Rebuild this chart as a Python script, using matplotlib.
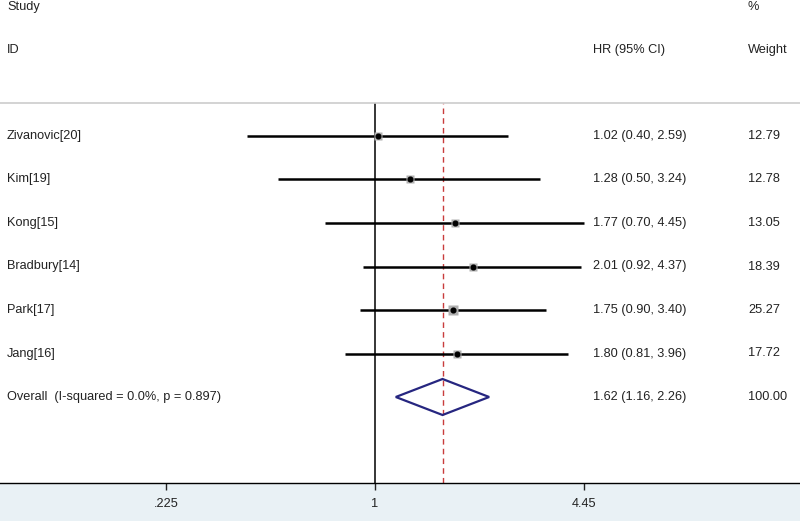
import matplotlib.pyplot as plt
import matplotlib.transforms as mtransforms
from matplotlib.patches import Rectangle, Polygon
import numpy as np

plt.rcParams['font.family'] = ['Liberation Sans', 'DejaVu Sans']

studies = ["Zivanovic[20]", "Kim[19]", "Kong[15]", "Bradbury[14]", "Park[17]", "Jang[16]"]
hr = [1.02, 1.28, 1.77, 2.01, 1.75, 1.80]
lower = [0.40, 0.50, 0.70, 0.92, 0.90, 0.81]
upper = [2.59, 3.24, 4.45, 4.37, 3.40, 3.96]
weights = [12.79, 12.78, 13.05, 18.39, 25.27, 17.72]

overall_label = "Overall  (I-squared = 0.0%, p = 0.897)"
overall_hr, overall_lo, overall_hi = 1.62, 1.16, 2.26
overall_weight = 100.00

xticks = [0.225, 1, 4.45]
xtick_labels = [".225", "1", "4.45"]

W, H = 800, 521
fig = plt.figure(figsize=(W / 100, H / 100), dpi=100)
fig.patch.set_facecolor("white")

# light band behind the axis labels
fig.add_artist(Rectangle((0, 0), 1, 38 / H, transform=fig.transFigure,
                         facecolor="#e9f1f5", edgecolor="none", zorder=0))

ax = fig.add_axes([0, 38 / H, 1, 380 / H])
ax.set_facecolor("none")
ax.set_xscale("log")
px_per_log = 140.0
ax.set_xlim(np.exp(-375 / px_per_log), np.exp((W - 375) / px_per_log))
row_px = 43.5
ax.set_ylim(6 + 86 / row_px, -33 / row_px)

ax.spines["left"].set_visible(False)
ax.spines["right"].set_visible(False)
ax.spines["top"].set_color("#cccccc")
ax.spines["top"].set_linewidth(1.2)
ax.spines["bottom"].set_color("black")
ax.spines["bottom"].set_linewidth(1.0)

ax.set_yticks([])
ax.set_xticks(xticks, labels=xtick_labels)
ax.xaxis.set_minor_locator(plt.NullLocator())
ax.tick_params(axis="x", direction="out", length=5, width=1, pad=6,
               labelsize=9.2, colors="#222222")

# null line and overall dashed line
ax.axvline(1, color="black", lw=1.1, zorder=2)
ax.axvline(overall_hr, color="#c83c3c", lw=1.0, ls=(0, (4, 3)), zorder=2)

ys = np.arange(len(studies))
for y, h, lo, up, w in zip(ys, hr, lower, upper, weights):
    ax.plot([lo, up], [y, y], color="black", lw=1.8, zorder=3, solid_capstyle="butt")
    side = 2.0 * np.sqrt(w) * 0.72
    ax.plot(h, y, marker="s", ms=side, color="#b0b0b0", mec="none", zorder=4)
    ax.plot(h, y, marker="o", ms=3.4, color="black", zorder=5)

oy = len(studies)
dh = 18 / row_px
diamond = Polygon([(overall_lo, oy), (overall_hr, oy - dh), (overall_hi, oy),
                   (overall_hr, oy + dh)], closed=True, fill=False,
                  edgecolor="#262680", lw=1.6, zorder=4)
ax.add_patch(diamond)

# text columns
trans = mtransforms.blended_transform_factory(fig.transFigure, ax.transData)
fs = 9.2
tc = "#222222"
for y, name, h, lo, up, w in zip(ys, studies, hr, lower, upper, weights):
    ax.text(7 / W, y, name, transform=trans, ha="left", va="center", fontsize=fs, color=tc)
    ax.text(593 / W, y, f"{h:.2f} ({lo:.2f}, {up:.2f})", transform=trans,
            ha="left", va="center", fontsize=fs, color=tc)
    ax.text(748 / W, y, f"{w:.2f}", transform=trans, ha="left", va="center",
            fontsize=fs, color=tc)
ax.text(7 / W, oy, overall_label, transform=trans, ha="left", va="center", fontsize=fs, color=tc)
ax.text(593 / W, oy, f"{overall_hr:.2f} ({overall_lo:.2f}, {overall_hi:.2f})",
        transform=trans, ha="left", va="center", fontsize=fs, color=tc)
ax.text(748 / W, oy, f"{overall_weight:.2f}", transform=trans, ha="left",
        va="center", fontsize=fs, color=tc)

# headers
fig.text(7 / W, 1 - 7 / H, "Study", ha="left", va="center", fontsize=fs, color=tc)
fig.text(7 / W, 1 - 50 / H, "ID", ha="left", va="center", fontsize=fs, color=tc)
fig.text(593 / W, 1 - 50 / H, "HR (95% CI)", ha="left", va="center", fontsize=fs, color=tc)
fig.text(748 / W, 1 - 7 / H, "%", ha="left", va="center", fontsize=fs, color=tc)
fig.text(748 / W, 1 - 50 / H, "Weight", ha="left", va="center", fontsize=fs, color=tc)

fig.savefig("out.png", dpi=100)
